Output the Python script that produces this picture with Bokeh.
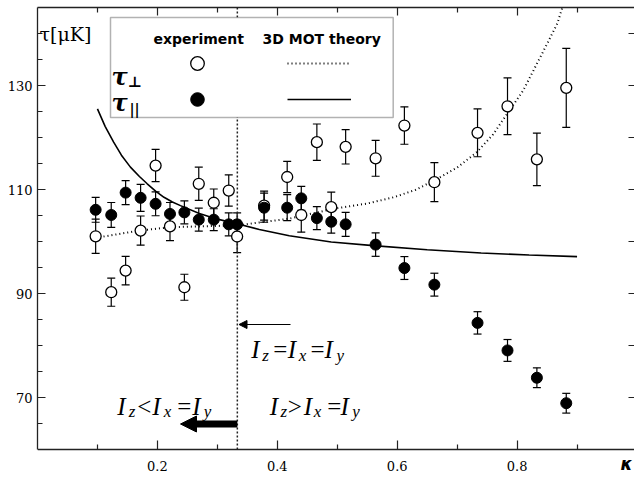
from bokeh.plotting import figure
from bokeh.models import (ColumnDataSource, Whisker, TeeHead, BoxAnnotation, Label, Arrow,
                          NormalHead, LinearAxis, FixedTicker, Legend, LegendItem, Range1d)
from bokeh.embed import file_html
from bokeh.resources import INLINE

# ---------------- data ----------------
kappa = [0.097, 0.123, 0.147, 0.172, 0.197, 0.221, 0.245, 0.269, 0.294, 0.319, 0.333, 0.378,
         0.4165, 0.44, 0.466, 0.49, 0.514, 0.564, 0.612, 0.662, 0.734, 0.784, 0.833, 0.882]
tau_perp = [101.0, 90.25, 94.4, 102.1, 114.6, 102.9, 91.2, 111.1, 107.45, 109.8, 100.96, 106.9,
            112.4, 105.1, 119.1, 106.6, 118.2, 116.0, 122.3, 111.4, 120.9, 126.0, 115.8, 129.55]
tau_perp_err = [3.3, 2.7, 2.75, 2.8, 3.1, 2.75, 2.5, 3.2, 2.65, 3.0, 3.1, 2.8,
                3.0, 3.3, 3.5, 2.9, 3.3, 3.45, 3.6, 3.75, 4.6, 5.45, 5.05, 7.6]
tau_par = [106.1, 105.1, 109.4, 108.4, 107.25, 105.3, 105.6, 104.2, 104.2, 103.3, 103.3, 106.5,
           106.5, 108.3, 104.5, 103.8, 103.3, 99.4, 94.9, 91.7, 84.35, 79.05, 73.8, 68.9]
tau_par_err = [2.4, 2.4, 2.3, 2.6, 2.3, 2.2, 2.2, 2.2, 2.1, 2.2, 2.2, 2.8,
               2.5, 2.3, 2.2, 2.2, 2.3, 2.25, 2.2, 2.2, 2.15, 2.1, 1.9, 1.9]

theory_perp_kappa = [0.097, 0.17, 0.222, 0.333, 0.42, 0.494, 0.55, 0.594, 0.63, 0.661, 0.70,
                     0.733, 0.76, 0.783, 0.81, 0.83, 0.85, 0.867, 0.877]
theory_perp = [100.7, 102.1, 102.75, 103.1, 104.4, 106.3, 107.3, 108.5, 109.9, 111.7, 114.2,
               117.2, 120.6, 124.5, 129.0, 133.5, 138.0, 141.9, 145.5]
theory_par_kappa = [0.10, 0.113, 0.127, 0.14, 0.155, 0.17, 0.183, 0.197, 0.211, 0.225, 0.2385,
                    0.27, 0.30, 0.333, 0.37, 0.42, 0.49, 0.56, 0.65, 0.74, 0.82, 0.90]
theory_par = [125.5, 122.1, 119.1, 116.6, 114.3, 112.5, 111.1, 109.7, 108.5, 107.6, 106.9,
              105.4, 104.3, 103.4, 102.3, 101.1, 99.9, 99.2, 98.4, 97.8, 97.4, 97.1]

kappa_isotropic = 1.0 / 3.0
x_major_ticks = [0.2, 0.4, 0.6, 0.8]
x_minor_ticks = [0.1, 0.3, 0.5, 0.7, 0.9]
y_major_ticks = [70, 90, 110, 130]
y_minor_ticks = [65, 75, 80, 85, 95, 100, 105, 115, 120, 125, 135, 140]
y_right_ticks = [70, 80, 90, 100, 110, 120, 130, 140]
Y_MIN = 60

# ---------------- layout calibration (page pixels) ----------------
W, H = 634, 480
FRAME_LEFT = 37.0
FRAME_TOP = 7.0
AXIS_Y = 449.0          # where the x axis (tau = 60) sits
PX_PER_K = 599.5
PX_PER_T = 5.2
X_END = (W - FRAME_LEFT) / PX_PER_K
Y_END = Y_MIN + (AXIS_Y - FRAME_TOP) / PX_PER_T
Y_START = Y_MIN - (H - AXIS_Y) / PX_PER_T   # frame extends below the axis to hold its labels


def D(px, py):
    """page pixel -> data coordinates (for annotation placement)"""
    return (px - FRAME_LEFT) / PX_PER_K, Y_MIN + (AXIS_Y - py) / PX_PER_T


p = figure(width=W, height=H, x_range=Range1d(0, X_END), y_range=Range1d(Y_START, Y_END),
           output_backend="svg", toolbar_location=None, x_axis_type=None, y_axis_type=None,
           min_border_left=int(FRAME_LEFT), min_border_right=0,
           min_border_top=int(FRAME_TOP), min_border_bottom=0)
p.outline_line_color = None
p.background_fill_color = "white"
p.border_fill_color = "white"

AX = "#222222"


def style_axis(ax, tick_in, minor_in, labels=True, ticks=()):
    ax.axis_line_color = AX
    ax.axis_line_width = 1.3
    ax.major_tick_in = tick_in
    ax.major_tick_out = 0
    ax.minor_tick_in = minor_in
    ax.minor_tick_out = 0
    ax.major_tick_line_color = AX
    ax.minor_tick_line_color = AX
    ax.major_tick_line_width = 1.2
    ax.minor_tick_line_width = 1.2
    if labels:
        ax.major_label_text_font = "DejaVu Serif"
        ax.major_label_text_font_size = "13px"
        ax.major_label_text_color = "black"
    else:
        ax.major_label_overrides = {t: "" for t in ticks}
        ax.major_label_standoff = 0


# bottom axis drawn at tau = 60 inside the (taller) frame
bottom = LinearAxis(ticker=FixedTicker(ticks=x_major_ticks, minor_ticks=x_minor_ticks),
                    fixed_location=Y_MIN)
style_axis(bottom, 9, 5)
bottom.major_label_standoff = 11
p.add_layout(bottom, "below")

left = LinearAxis(ticker=FixedTicker(ticks=y_major_ticks, minor_ticks=y_minor_ticks),
                  bounds=(Y_MIN, Y_END))
style_axis(left, 8, 5)
left.major_label_standoff = 5
p.add_layout(left, "left")

top = LinearAxis(ticker=FixedTicker(ticks=x_major_ticks, minor_ticks=x_minor_ticks))
style_axis(top, 8, 5, labels=False, ticks=x_major_ticks)
p.add_layout(top, "above")

right = LinearAxis(ticker=FixedTicker(ticks=y_right_ticks, minor_ticks=[]), bounds=(Y_MIN, Y_END))
style_axis(right, 6, 0, labels=False, ticks=y_right_ticks)
right.axis_line_color = None
p.add_layout(right, "right")

# ---------------- data renderers ----------------
src_perp = ColumnDataSource(dict(k=kappa, t=tau_perp,
                                 lo=[t - e for t, e in zip(tau_perp, tau_perp_err)],
                                 hi=[t + e for t, e in zip(tau_perp, tau_perp_err)]))
src_par = ColumnDataSource(dict(k=kappa, t=tau_par,
                                lo=[t - e for t, e in zip(tau_par, tau_par_err)],
                                hi=[t + e for t, e in zip(tau_par, tau_par_err)]))

for src in (src_perp, src_par):
    w = Whisker(source=src, base="k", lower="lo", upper="hi", dimension="height",
                line_color="black", line_width=1.2, level="underlay",
                lower_head=TeeHead(size=8, line_color="black", line_width=1.2),
                upper_head=TeeHead(size=8, line_color="black", line_width=1.2))
    p.add_layout(w)

# vertical line at kappa = 1/3 (from the x axis to the top of the frame)
p.segment(x0=[kappa_isotropic], y0=[Y_MIN], x1=[kappa_isotropic], y1=[Y_END],
          line_color="#222222", line_width=1.5, line_dash="2 2")

r_th_perp = p.line(theory_perp_kappa, theory_perp, line_color="black", line_width=2.0,
                   line_dash="1 3")
r_th_par = p.line(theory_par_kappa, theory_par, line_color="black", line_width=1.6)

r_open = p.scatter("k", "t", source=src_perp, marker="circle", size=11, fill_color="white",
                   line_color="black", line_width=1.3)
r_fill = p.scatter("k", "t", source=src_par, marker="circle", size=11, fill_color="black",
                   line_color="black", line_width=1.0)

# ---------------- legend box ----------------
l0, t0 = D(110, 17)
r0, b0 = D(392.7, 117)
p.add_layout(BoxAnnotation(left=l0, right=r0, top=t0, bottom=b0, fill_color="white",
                           fill_alpha=1.0, line_color="black", line_width=1.5))

FRAME_BOTTOM_PAGE = H
common_leg = dict(orientation="vertical", glyph_height=34, spacing=2, padding=0, margin=0,
                  label_standoff=0, label_width=0, label_height=0, label_text_font_size="1px",
                  border_line_color=None, background_fill_alpha=0)
leg1 = Legend(items=[LegendItem(label=" ", renderers=[r_open]),
                     LegendItem(label=" ", renderers=[r_fill])],
              location=(180 - FRAME_LEFT, FRAME_BOTTOM_PAGE - 116), glyph_width=34, **common_leg)
leg2 = Legend(items=[LegendItem(label=" ", renderers=[r_th_perp]),
                     LegendItem(label=" ", renderers=[r_th_par])],
              location=(287 - FRAME_LEFT, FRAME_BOTTOM_PAGE - 116), glyph_width=64, **common_leg)
p.add_layout(leg1)
p.add_layout(leg2)


def text(px, py, s, size, font="DejaVu Serif", style="normal", align="left"):
    x, y = D(px, py)
    p.add_layout(Label(x=x, y=y, text=s, text_font=font, text_font_size=f"{size}px",
                       text_font_style=style, text_align=align, text_baseline="alphabetic",
                       text_color="black"))


text(153, 38.5, "experiment", 14, font="DejaVu Sans", style="bold")
text(262, 38.5, "3D MOT theory", 14, font="DejaVu Sans", style="bold")
text(111, 76, "τ", 24, style="bold italic")
text(127, 81, "⊥", 15, style="bold")
text(111, 101.5, "τ", 24, style="bold italic")
text(129, 108, "||", 14, style="bold")

# axis titles
text(39, 33, "τ[μK]", 19)
text(620, 463, "κ", 17, font="DejaVu Sans", style="bold italic")


# ---------------- intensity relations ----------------
def relation(parts, base, sub_base):
    for s, px, kind in parts:
        if kind == "main":
            text(px, base, s, 25, font="Liberation Serif", style="italic")
        elif kind == "op":
            text(px, base, s, 25, font="Liberation Serif")
        else:
            text(px, sub_base, s, 17, font="Liberation Serif", style="italic")


relation([("I", 250.7, "main"), ("z", 261.7, "sub"), ("=", 272.7, "op"), ("I", 287.3, "main"),
          ("x", 298.3, "sub"), ("=", 310, "op"), ("I", 324, "main"), ("y", 336, "sub")], 349, 355)
relation([("I", 116.7, "main"), ("z", 128.3, "sub"), ("<", 136.7, "op"), ("I", 151.7, "main"),
          ("x", 163.3, "sub"), ("=", 176.7, "op"), ("I", 191.7, "main"), ("y", 203.3, "sub")],
         405.7, 411)
relation([("I", 269.3, "main"), ("z", 280, "sub"), (">", 287.3, "op"), ("I", 303.3, "main"),
          ("x", 313.3, "sub"), ("=", 326.7, "op"), ("I", 340, "main"), ("y", 351.7, "sub")],
         405.7, 411)

# arrows
xs, ys = D(290, 324)
xe, _ = D(238.5, 324)
p.add_layout(Arrow(x_start=xs, y_start=ys, x_end=xe, y_end=ys, line_color="black", line_width=1.2,
                   end=NormalHead(size=8, fill_color="black", line_color="black", line_width=1)))
xe2, ya = D(180, 423.5)
p.add_layout(Arrow(x_start=kappa_isotropic, y_start=ya, x_end=xe2, y_end=ya, line_color="black",
                   line_width=7,
                   end=NormalHead(size=16, fill_color="black", line_color="black", line_width=1)))

open("out.html", "w").write(file_html(p, INLINE))
